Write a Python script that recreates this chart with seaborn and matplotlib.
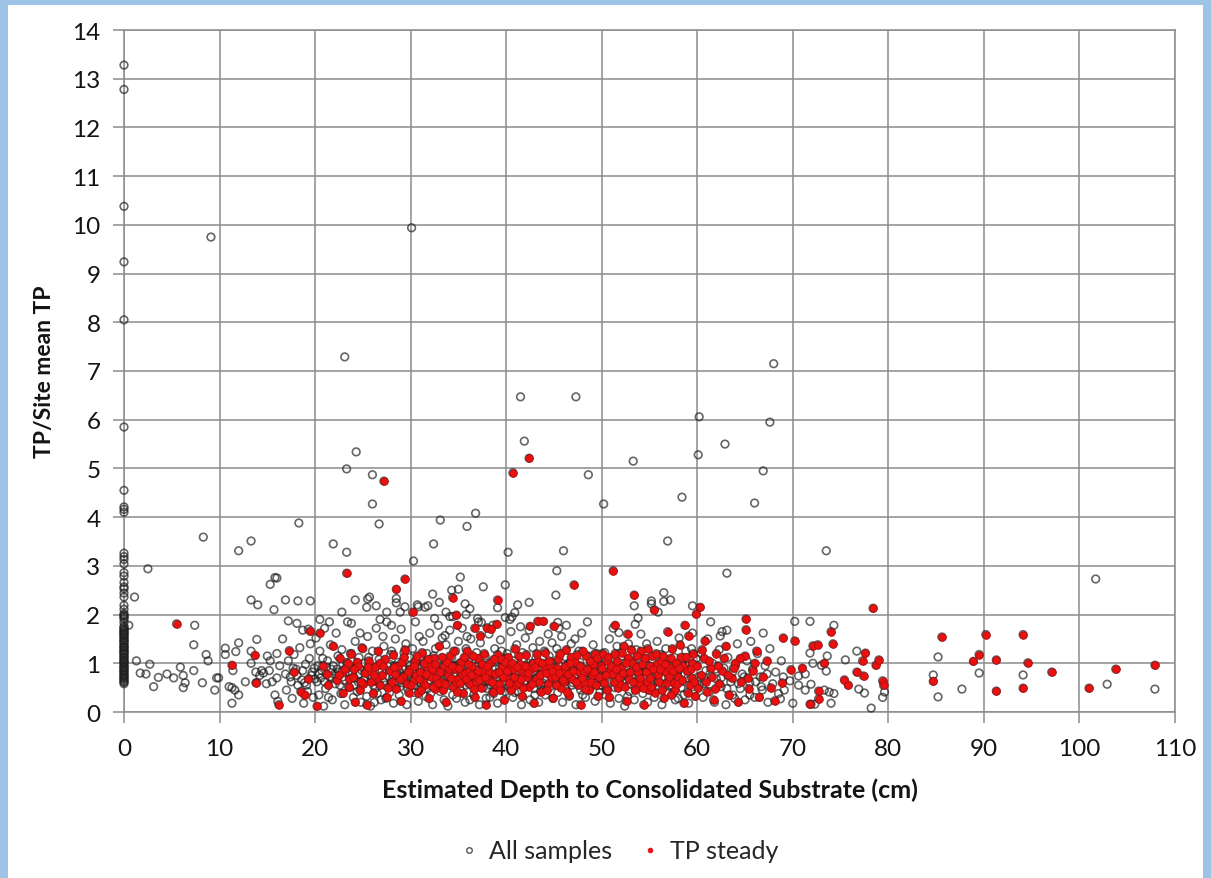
import matplotlib
matplotlib.use("Agg")
import matplotlib.pyplot as plt
from matplotlib.lines import Line2D
from matplotlib.patches import Rectangle
import numpy as np
import seaborn as sns

# values (depth in cm, TP / site mean TP)
zero_depth_y = [0.58, 0.61, 0.63, 0.66, 0.69, 0.7, 0.73, 0.76, 0.77, 0.81, 0.83, 0.86, 0.87,
                0.91, 0.93, 0.94, 0.98, 1.01, 1.03, 1.04, 1.07, 1.11, 1.12, 1.16, 1.19, 1.21,
                1.23, 1.26, 1.27, 1.31, 1.33, 1.34, 1.37, 1.41, 1.43, 1.46, 1.47, 1.51, 1.53,
                1.56, 1.59, 1.61, 1.63, 1.66, 1.67, 1.71, 1.73, 1.76, 1.84, 1.91, 1.94, 1.97,
                1.99, 2.02, 2.11, 2.19, 2.36, 2.44, 2.53, 2.57, 2.66, 2.79, 2.86, 3.04, 3.13,
                3.19, 3.26, 4.1, 4.16, 4.21, 4.55, 5.85, 8.05, 9.24, 10.38, 12.78, 13.28]

gray_outliers = [(9.1, 9.75), (30.1, 9.94), (23.1, 7.29), (24.3, 5.34), (23.3, 4.99), (26.0, 4.87),
                 (26.0, 4.27), (18.3, 3.88), (26.7, 3.86), (33.1, 3.94), (36.8, 4.08), (35.9, 3.81),
                 (8.3, 3.59), (13.3, 3.51), (12.0, 3.31), (21.9, 3.45), (23.3, 3.28), (32.4, 3.45),
                 (30.3, 3.1), (16.0, 2.75), (35.2, 2.77), (68.0, 7.15), (41.5, 6.47), (47.3, 6.47),
                 (60.2, 6.06), (67.6, 5.95), (41.9, 5.56), (62.9, 5.5), (60.1, 5.28), (53.3, 5.15),
                 (48.6, 4.87), (66.9, 4.95), (50.2, 4.27), (58.4, 4.41), (66.0, 4.29), (56.9, 3.51),
                 (40.2, 3.28), (46.0, 3.31), (73.5, 3.31), (45.3, 2.9), (63.1, 2.85), (101.7, 2.73)]

gray_low_depth = [(1.1, 2.36), (2.5, 2.94), (0.5, 1.78), (1.3, 1.05), (1.7, 0.8), (2.3, 0.78),
                  (2.7, 0.98), (3.1, 0.52), (3.6, 0.71), (4.5, 0.78), (5.2, 0.7), (5.9, 0.92),
                  (6.2, 0.75), (6.2, 0.5), (6.4, 0.6), (7.4, 1.78), (7.3, 1.38), (7.3, 0.85),
                  (8.2, 0.6), (8.6, 1.18), (8.8, 1.05), (9.5, 0.45), (9.7, 0.7), (9.9, 0.7),
                  (10.6, 1.31), (10.6, 1.18), (11.7, 1.24), (12.0, 1.42), (11.0, 0.52), (11.3, 0.5),
                  (11.6, 0.45), (12.0, 0.35), (11.3, 0.18), (11.4, 0.85), (12.7, 0.62), (13.3, 2.3),
                  (14.0, 2.2), (13.9, 1.49), (13.3, 1.25), (13.3, 1.0), (13.8, 0.82), (14.2, 0.75),
                  (14.4, 0.85), (13.9, 0.6), (15.3, 2.62), (15.8, 2.76), (15.7, 2.1), (16.9, 2.3),
                  (18.2, 2.28), (19.5, 2.28), (17.2, 1.87), (18.1, 1.82), (16.6, 1.5), (18.7, 1.68),
                  (19.3, 1.7), (16.0, 1.2), (15.3, 1.05)]

gray_upper_band = [(25.5, 2.32), (25.7, 2.36), (25.4, 2.15), (26.4, 2.18), (24.2, 2.3), (22.8, 2.05),
                   (23.8, 1.82), (27.5, 2.05), (28.0, 1.78), (31.5, 2.15), (31.8, 2.18), (33.0, 2.25),
                   (35.0, 2.52), (35.8, 2.0), (36.2, 2.12), (37.0, 1.92), (32.5, 1.92), (28.5, 2.33),
                   (28.5, 2.24), (28.9, 2.05), (29.4, 2.16), (30.7, 2.2), (30.8, 2.16), (37.6, 2.57),
                   (32.3, 2.42), (34.3, 2.5), (35.7, 2.22), (33.7, 2.05), (34.1, 1.96), (34.4, 1.96),
                   (33.6, 1.57), (39.9, 2.61), (39.1, 2.14), (41.2, 2.2), (40.9, 2.04), (42.4, 2.25),
                   (39.9, 1.94), (40.4, 1.9), (37.4, 1.84), (45.2, 2.4), (45.4, 1.84), (46.3, 1.78),
                   (53.4, 2.18), (53.8, 1.93), (55.2, 2.28), (55.2, 2.22), (56.5, 2.45), (56.5, 2.27),
                   (51.8, 1.63), (59.5, 2.18), (63.1, 1.68), (62.4, 1.56), (20.5, 1.9), (21.5, 1.85)]

gray_band = [
    (14.6, 0.8), (14.9, 0.58), (15.0, 1.15), (15.2, 0.85), (15.5, 0.62), (15.8, 0.35), (16.0, 0.7),
    (16.1, 0.22), (16.3, 0.95), (16.9, 0.78), (17.0, 0.45), (17.2, 1.05), (17.4, 0.72), (17.6, 0.28),
    (17.7, 0.9), (17.8, 1.18), (18.0, 0.88), (18.2, 0.55), (18.4, 1.32), (18.6, 0.66), (18.8, 0.18),
    (18.9, 0.6), (19.0, 0.98), (19.2, 0.42), (19.4, 1.1), (19.5, 1.4), (19.6, 0.75), (19.8, 0.3),
    (19.9, 0.9), (20.1, 1.52), (20.2, 0.62), (20.3, 0.95), (20.4, 0.35), (20.5, 1.25), (20.6, 0.7),
    (20.7, 0.85), (20.8, 1.1), (20.9, 0.12), (21.0, 1.72), (21.1, 0.48), (21.3, 1.05), (21.4, 0.3),
    (21.5, 0.72), (21.6, 1.38), (21.7, 0.88), (21.8, 0.25), (21.9, 0.95), (22.0, 0.78), (22.1, 0.58),
    (22.2, 1.62), (22.4, 1.15), (22.5, 0.82), (22.6, 0.55), (22.7, 0.38), (22.8, 1.28), (22.9, 0.98),
    (23.0, 0.65), (23.1, 0.15), (23.2, 0.88), (23.3, 1.02), (23.4, 1.85), (23.6, 0.5), (23.7, 1.2),
    (23.8, 1.05), (23.9, 0.78), (24.0, 0.3), (24.1, 0.7), (24.2, 1.45), (24.3, 0.92), (24.4, 0.42),
    (24.5, 0.62), (24.6, 1.12), (24.7, 1.62), (24.8, 0.2), (24.9, 0.85), (25.0, 1.3),
    (25.1, 0.58), (25.2, 1.0), (25.3, 0.82), (25.4, 0.32), (25.5, 1.55), (25.6, 1.12), (25.7, 0.75),
    (25.8, 0.12), (25.9, 0.68), (26.0, 1.25), (26.1, 0.9), (26.2, 0.2), (26.3, 0.48), (26.4, 1.72),
    (26.5, 0.38), (26.6, 0.62), (26.7, 1.08), (26.8, 1.9), (26.9, 0.25), (27.0, 0.85), (27.1, 1.55),
    (27.2, 1.35), (27.3, 0.55), (27.4, 0.28), (27.5, 1.85), (27.6, 0.95), (27.7, 0.72), (27.8, 0.4),
    (27.9, 1.18), (28.0, 1.25), (28.1, 0.7), (28.2, 0.18), (28.3, 0.95), (28.4, 1.5), (28.5, 0.82),
    (28.6, 0.6), (28.7, 1.02), (28.8, 0.35), (28.9, 0.52), (29.0, 1.7), (29.1, 0.6), (29.2, 0.88),
    (29.3, 1.22), (29.4, 0.9), (29.5, 1.4), (29.6, 0.15), (29.7, 0.48), (29.8, 0.78), (29.9, 1.12),
    (30.1, 0.72), (30.2, 1.3), (30.3, 0.55), (30.4, 0.4), (30.5, 1.85), (30.6, 1.05), (30.7, 0.92),
    (30.8, 0.22), (30.9, 1.55), (31.0, 1.1), (31.1, 0.58), (31.2, 0.9), (31.3, 1.45), (31.4, 0.8),
    (31.5, 1.02), (31.6, 0.32), (31.7, 1.2), (31.8, 0.48), (31.9, 0.65), (32.0, 1.62), (32.1, 0.38),
    (32.2, 0.98), (32.3, 0.15), (32.4, 1.15), (32.5, 0.5), (32.6, 1.3), (32.7, 0.62), (32.8, 0.85),
    (32.9, 1.78), (33.0, 0.95), (33.1, 0.42), (33.2, 1.05), (33.3, 1.52), (33.4, 0.7), (33.5, 0.25),
    (33.6, 0.68), (33.7, 1.38), (33.8, 0.9), (33.9, 0.12), (34.0, 0.55), (34.1, 1.68), (34.2, 0.85),
    (34.3, 1.12), (34.4, 0.35), (34.5, 0.95), (34.6, 0.78), (34.7, 1.25), (34.8, 0.28), (34.9, 0.6),
    (35.0, 1.45), (35.1, 1.0), (35.2, 0.45), (35.3, 0.62), (35.4, 1.72), (35.5, 0.75), (35.6, 0.92),
    (35.7, 0.2), (35.8, 1.3), (35.9, 1.55), (36.0, 0.88), (36.1, 0.58), (36.2, 0.25), (36.3, 1.5),
    (36.4, 1.05), (36.5, 0.7), (36.6, 0.35), (36.7, 0.8), (36.8, 1.02), (36.9, 1.22), (37.0, 0.62),
    (37.1, 1.85), (37.2, 0.15), (37.3, 1.42), (37.4, 0.68), (37.5, 0.95), (37.6, 0.5), (37.7, 0.78),
    (37.8, 1.15), (37.9, 0.28), (38.0, 0.48), (38.1, 0.78), (38.2, 1.6), (38.3, 0.3), (38.4, 0.55),
    (38.5, 1.02), (38.6, 1.78), (38.7, 0.38), (38.8, 1.3), (38.9, 0.88), (39.0, 0.7), (39.1, 0.18),
    (39.2, 0.55), (39.3, 0.92), (39.4, 1.48), (39.5, 1.25), (39.6, 0.6), (39.7, 1.1), (39.8, 0.82),
    (39.9, 0.42), (40.1, 1.2), (40.2, 0.52), (40.3, 0.95), (40.4, 0.85), (40.5, 1.65), (40.6, 1.95),
    (40.7, 0.3), (40.8, 1.05), (40.9, 0.4), (41.0, 0.68), (41.1, 1.38), (41.2, 0.62), (41.3, 0.42),
    (41.4, 0.9), (41.5, 1.75), (41.6, 0.15), (41.7, 1.22), (41.8, 1.05), (41.9, 0.75), (42.0, 1.52),
    (42.1, 0.88), (42.2, 0.58), (42.3, 1.0), (42.4, 1.68), (42.5, 0.25), (42.6, 0.82), (42.7, 0.62),
    (42.8, 1.32), (42.9, 0.48), (43.0, 0.35), (43.1, 1.1), (43.2, 0.7), (43.3, 1.0), (43.4, 0.2),
    (43.5, 1.45), (43.6, 0.78), (43.7, 0.92), (43.8, 0.6), (43.9, 0.45), (44.0, 1.25), (44.1, 0.35),
    (44.2, 0.98), (44.3, 0.8), (44.4, 1.6), (44.5, 1.15), (44.6, 0.52), (44.7, 1.02), (44.8, 1.42),
    (44.9, 0.28), (45.1, 0.72), (45.3, 1.3), (45.4, 0.4), (45.5, 1.72), (45.6, 0.95), (45.7, 0.58),
    (45.8, 1.55), (45.9, 0.2), (46.1, 0.62), (46.2, 0.48), (46.3, 1.12), (46.4, 0.85), (46.5, 1.0),
    (46.6, 0.32), (46.8, 1.4), (46.9, 0.55), (47.0, 0.6), (47.1, 1.0), (47.2, 1.5), (47.3, 0.15),
    (47.4, 0.78), (47.6, 1.25), (47.7, 1.02), (47.8, 0.45), (47.9, 1.62), (48.0, 0.35), (48.1, 0.9),
    (48.3, 0.3), (48.4, 0.68), (48.5, 1.85), (48.6, 1.15), (48.7, 0.8), (48.8, 0.5), (48.9, 0.98),
    (49.1, 1.38), (49.2, 0.62), (49.3, 0.22), (49.4, 0.75), (49.5, 1.2), (49.6, 1.05), (49.8, 0.4),
    (49.9, 0.88), (50.1, 0.65), (50.3, 1.22), (50.4, 0.35), (50.5, 0.48), (50.6, 0.92), (50.8, 1.5),
    (50.9, 0.18), (51.1, 0.78), (51.2, 1.72), (51.3, 1.08), (51.4, 0.5), (51.6, 1.35), (51.8, 0.28),
    (51.9, 0.85), (52.0, 0.7), (52.1, 1.15), (52.3, 0.6), (52.4, 0.12), (52.6, 0.95), (52.7, 0.32),
    (52.8, 1.4), (52.9, 0.42), (53.1, 0.72), (53.3, 1.02), (53.4, 0.25), (53.5, 1.8), (53.6, 1.28),
    (53.8, 0.55), (53.9, 0.88), (54.1, 1.6), (54.2, 0.95), (54.3, 0.38), (54.4, 0.7), (54.6, 1.1),
    (54.7, 1.4), (54.8, 0.2), (54.9, 0.82), (55.1, 0.6), (55.3, 1.05), (55.5, 0.3), (55.6, 0.85),
    (55.8, 1.45), (55.9, 2.05), (56.0, 0.48), (56.2, 1.18), (56.3, 0.15), (56.5, 0.72), (56.6, 1.0),
    (56.7, 1.3), (56.9, 0.4), (57.0, 0.95), (57.2, 2.3), (57.3, 0.55), (57.4, 0.62), (57.6, 1.12),
    (57.7, 0.25), (57.9, 0.8), (58.0, 0.28), (58.1, 1.52), (58.3, 0.5), (58.4, 1.0), (58.6, 0.35),
    (58.7, 0.78), (58.8, 1.25), (59.0, 0.7), (59.1, 0.18), (59.3, 0.9), (59.4, 1.3), (59.5, 1.62),
    (59.7, 0.45), (59.9, 1.1), (60.2, 0.55), (60.4, 1.2), (60.6, 0.3), (60.9, 0.85), (61.1, 1.5),
    (61.3, 0.42), (61.4, 1.85), (61.6, 1.0), (61.8, 0.2), (62.0, 0.68), (62.3, 1.28), (62.5, 0.52),
    (62.6, 1.65), (62.8, 0.9), (63.0, 0.15), (63.2, 1.12), (63.5, 0.62), (63.7, 0.35), (63.9, 0.28),
    (64.0, 0.95), (64.2, 1.4), (64.5, 0.48), (64.7, 0.78), (65.0, 0.25), (65.2, 1.05), (65.5, 0.6),
    (65.6, 1.45), (65.8, 0.88), (66.0, 0.3), (66.3, 1.2), (66.6, 0.72), (66.8, 0.45), (66.9, 1.62),
    (67.1, 0.95), (67.4, 0.2), (67.6, 1.3), (67.9, 0.58), (68.2, 0.82), (68.5, 0.38), (68.8, 1.05)]

gray_band_core = [
    (17.5, 0.62), (18.1, 0.75), (18.7, 0.85), (19.1, 0.55), (19.7, 0.82), (20.0, 0.68), (20.4, 0.78),
    (21.0, 0.62), (21.2, 0.92), (21.8, 0.7), (22.3, 0.88), (22.9, 0.72), (23.5, 0.82), (24.1, 0.55),
    (24.6, 0.78), (25.2, 0.68), (25.7, 0.95), (26.1, 0.55), (26.7, 0.82), (27.2, 0.62), (27.8, 0.98),
    (28.2, 0.75), (28.8, 0.85), (29.3, 0.65), (29.9, 0.95), (30.4, 0.78), (30.9, 0.62), (31.5, 0.72),
    (32.0, 0.82), (32.6, 0.92), (33.1, 0.68), (33.6, 0.85), (34.2, 0.62), (34.7, 0.95), (35.2, 0.8),
    (35.8, 0.55), (36.3, 0.82), (36.9, 0.92), (37.4, 0.58), (38.0, 0.88), (38.6, 0.68), (39.1, 0.78),
    (39.6, 0.98), (40.2, 0.72), (40.8, 0.58), (41.3, 0.85), (41.9, 0.62), (42.5, 0.95), (43.0, 0.78),
    (43.6, 0.55), (44.2, 0.68), (44.7, 0.88), (45.3, 0.62), (45.9, 0.82), (46.4, 0.72), (47.0, 0.9),
    (47.6, 0.58), (48.2, 0.78), (48.8, 0.65), (49.3, 0.92), (49.9, 0.55), (50.5, 0.82), (51.1, 0.62),
    (51.7, 0.92), (52.3, 0.78), (52.9, 0.58), (53.5, 0.72), (54.1, 0.82), (54.7, 0.52), (55.3, 0.75),
    (55.9, 0.62), (56.5, 0.88), (57.1, 0.52), (57.7, 0.75), (58.3, 0.62), (58.9, 0.95), (59.5, 0.52),
    (60.1, 0.72), (60.7, 0.58), (61.3, 0.78), (61.9, 0.88), (62.5, 0.7), (63.1, 0.48), (63.7, 0.82),
    (64.3, 0.58), (64.9, 0.72), (65.5, 0.35), (66.1, 0.62), (66.7, 0.52), (67.3, 0.78)]

gray_deep = [(70.2, 1.86), (71.8, 1.86), (74.3, 1.78), (76.7, 1.25), (75.5, 1.07), (79.6, 0.41),
             (79.4, 0.3), (78.2, 0.08), (76.9, 0.47), (77.5, 0.39), (74.0, 0.18), (73.3, 0.45),
             (73.8, 0.41), (74.3, 0.38), (71.9, 0.57), (72.1, 1.0), (73.5, 0.84), (73.0, 0.96),
             (73.6, 1.15), (71.8, 1.21), (71.3, 0.78), (70.6, 0.74), (70.6, 0.55), (71.3, 0.45),
             (71.9, 0.16), (72.3, 0.16), (70.0, 0.18), (69.7, 0.64), (69.0, 0.72), (69.1, 0.45),
             (68.7, 0.27), (84.7, 0.76), (85.2, 1.13), (85.2, 0.31), (87.7, 0.47), (89.5, 0.8),
             (94.1, 0.76), (102.9, 0.57), (107.9, 0.47)]

tp_steady = [
    (5.5, 1.81), (11.3, 0.96), (13.7, 1.16), (13.8, 0.6), (16.2, 0.15), (17.3, 1.26), (17.8, 0.82),
    (18.5, 0.42), (18.9, 0.35), (19.3, 0.68), (19.5, 1.66), (20.2, 0.12), (20.5, 1.62), (20.8, 0.95),
    (21.2, 0.78), (21.4, 0.55), (21.9, 1.35), (22.3, 0.65), (22.6, 1.1), (22.8, 0.82), (22.9, 0.38),
    (23.1, 0.88), (23.3, 2.85), (23.5, 0.52), (23.6, 0.68), (23.8, 1.2), (24.0, 0.72), (24.2, 0.2),
    (24.4, 1.02), (24.5, 0.95), (24.7, 0.45), (24.9, 1.32), (25.0, 0.58), (25.2, 0.8), (25.4, 0.15),
    (25.6, 1.05), (25.8, 0.85), (25.9, 0.62), (26.1, 0.38), (26.3, 0.92), (26.5, 0.7), (26.6, 1.25),
    (26.8, 0.55), (27.0, 0.75), (27.2, 4.74), (27.3, 1.08), (27.5, 0.3), (27.6, 0.5), (27.8, 0.85),
    (28.0, 0.62), (28.2, 1.18), (28.4, 0.78), (28.5, 2.52), (28.5, 0.48), (28.7, 0.95), (29.0, 0.22),
    (29.1, 1.02), (29.2, 0.72), (29.4, 2.73), (29.4, 1.28), (29.6, 0.58), (29.8, 0.4), (29.9, 0.88),
    (30.2, 2.05), (30.3, 0.65), (30.5, 1.05), (30.6, 0.75), (30.8, 0.4), (31.0, 0.82), (31.2, 1.22),
    (31.3, 0.62), (31.5, 0.55), (31.7, 0.92), (31.9, 0.28), (32.0, 0.95), (32.1, 0.72), (32.4, 1.1),
    (32.6, 0.48), (32.7, 0.7), (32.8, 0.85), (33.0, 1.35), (33.2, 0.62), (33.4, 0.45), (33.5, 0.95),
    (33.7, 0.2), (33.9, 0.75), (34.0, 0.88), (34.1, 1.15), (34.4, 2.35), (34.4, 0.52), (34.6, 0.88),
    (34.7, 0.62), (34.8, 1.99), (34.9, 1.78), (35.0, 0.68), (35.3, 1.02), (35.4, 0.78), (35.5, 0.38),
    (35.7, 0.8), (35.9, 1.25), (36.1, 0.85), (36.2, 0.58), (36.4, 0.95), (36.7, 1.72), (36.7, 0.3),
    (36.8, 0.62), (36.9, 0.72), (37.1, 1.1), (37.3, 1.57), (37.4, 0.5), (37.5, 0.98), (37.6, 0.85),
    (37.9, 0.15), (38.0, 1.73), (38.1, 0.65), (38.2, 0.82), (38.3, 1.0), (38.4, 1.7), (38.6, 0.42),
    (38.8, 0.78), (38.9, 0.55), (39.0, 1.8), (39.1, 2.3), (39.1, 1.18), (39.3, 0.58), (39.5, 1.08),
    (39.6, 0.92), (39.8, 0.25), (40.0, 0.7), (40.2, 1.12), (40.4, 0.9), (40.5, 0.45), (40.7, 4.91),
    (40.7, 0.88), (40.9, 1.3), (41.0, 0.55), (41.2, 0.6), (41.4, 0.98), (41.6, 0.85), (41.7, 0.32),
    (41.9, 0.75), (42.1, 1.18), (42.2, 0.72), (42.4, 5.21), (42.4, 0.52), (42.5, 1.76), (42.6, 0.88),
    (42.8, 1.0), (42.9, 0.18), (43.1, 0.68), (43.3, 1.86), (43.3, 1.05), (43.4, 0.62), (43.6, 0.42),
    (43.9, 1.86), (43.9, 0.82), (44.0, 0.95), (44.1, 1.22), (44.4, 0.58), (44.6, 0.95), (44.7, 0.72),
    (44.9, 0.28), (45.0, 1.76), (45.1, 0.72), (45.3, 0.9), (45.4, 1.08), (45.7, 0.5), (46.0, 0.85),
    (46.1, 0.62), (46.3, 1.28), (46.6, 0.35), (46.8, 1.12), (46.9, 0.68), (47.1, 2.61), (47.2, 1.02),
    (47.5, 0.55), (47.6, 0.82), (47.8, 0.15), (48.1, 0.82), (48.3, 0.6), (48.4, 1.15), (48.7, 0.45),
    (49.0, 0.75), (49.1, 0.98), (49.3, 1.2), (49.6, 0.32), (49.9, 0.95), (50.2, 0.6), (50.5, 1.05),
    (50.8, 0.3), (50.9, 0.85), (51.1, 0.78), (51.2, 2.9), (51.4, 1.78), (51.4, 1.2), (51.7, 0.5),
    (51.9, 0.58), (52.0, 0.9), (52.3, 1.35), (52.6, 0.22), (52.7, 1.6), (52.8, 1.1), (52.9, 0.68),
    (53.2, 1.0), (53.4, 2.4), (53.5, 0.45), (53.8, 0.82), (53.9, 0.6), (54.1, 1.25), (54.4, 0.15),
    (54.7, 0.62), (54.9, 0.45), (55.0, 0.95), (55.3, 1.15), (55.5, 2.1), (55.6, 0.4), (55.8, 0.98),
    (55.9, 0.75), (56.2, 1.05), (56.5, 0.28), (56.7, 0.82), (56.8, 0.6), (56.9, 1.65), (57.1, 0.9),
    (57.4, 1.3), (57.6, 0.6), (57.7, 0.45), (58.0, 0.72), (58.3, 1.12), (58.5, 0.95), (58.6, 0.18),
    (58.7, 1.78), (58.9, 0.85), (59.1, 1.56), (59.2, 0.55), (59.4, 0.7), (59.5, 1.0), (59.8, 0.32),
    (59.9, 2.01), (60.3, 2.15), (60.4, 0.75), (60.7, 1.1), (60.8, 1.46), (61.0, 0.42), (61.4, 0.9),
    (61.7, 0.25), (62.0, 1.2), (62.3, 0.58), (62.6, 0.85), (63.0, 1.35), (63.3, 0.35), (63.6, 0.7),
    (64.0, 1.0), (64.3, 0.2), (64.6, 0.62), (65.0, 1.15), (65.1, 1.91), (65.1, 1.69), (65.4, 0.48),
    (65.8, 0.85), (66.2, 1.25), (66.5, 0.3), (66.9, 0.72), (67.3, 1.05), (67.7, 0.5), (68.1, 0.23),
    (68.9, 0.6), (69.0, 1.52), (69.8, 0.87), (70.2, 1.46), (71.0, 0.9), (71.8, 0.16), (72.1, 1.36),
    (72.6, 1.38), (72.7, 0.27), (72.7, 0.43), (73.3, 1.0), (74.0, 1.65), (74.2, 1.4), (75.4, 0.66),
    (75.8, 0.55), (76.7, 0.82), (77.3, 1.05), (77.4, 0.74), (77.6, 1.21), (78.4, 2.13), (78.7, 0.96),
    (79.0, 1.07), (79.4, 0.64), (79.5, 0.55), (84.7, 0.63), (85.6, 1.54), (88.9, 1.04), (89.5, 1.18),
    (90.2, 1.59), (91.3, 1.07), (91.3, 0.43), (94.1, 1.59), (94.1, 0.49), (94.6, 1.01), (97.1, 0.82),
    (101.0, 0.49), (103.8, 0.88), (107.9, 0.96)]

tp_steady_core = [
    (22.5, 0.75), (23.4, 1.0), (24.1, 0.88), (24.8, 0.62), (25.5, 0.92), (26.2, 0.75), (26.8, 1.0),
    (27.1, 0.95), (28.3, 0.92), (28.9, 0.68), (29.3, 1.12), (29.7, 0.82), (30.0, 0.55), (30.4, 0.95),
    (30.7, 1.15), (30.9, 0.68), (31.1, 0.45), (31.4, 1.0), (31.6, 0.78), (31.8, 1.08), (32.2, 0.88),
    (32.3, 0.52), (32.5, 0.98), (32.9, 0.6), (33.1, 0.82), (33.3, 1.12), (33.6, 0.58), (33.8, 1.02),
    (34.2, 0.7), (34.3, 0.95), (34.5, 1.25), (34.9, 0.42), (35.1, 0.9), (35.2, 0.6), (35.6, 1.12),
    (35.8, 0.68), (36.0, 0.98), (36.3, 0.75), (36.5, 1.15), (36.6, 0.48), (37.0, 0.85), (37.2, 0.65),
    (37.7, 1.2), (37.8, 0.72), (38.0, 0.95), (38.5, 0.62), (38.7, 1.08), (39.2, 0.82), (39.4, 0.45),
    (39.7, 0.72), (39.9, 1.02), (40.1, 0.85), (40.3, 0.6), (40.6, 1.0), (40.8, 0.72), (41.1, 0.92),
    (41.3, 1.15), (41.5, 0.68), (41.8, 0.5), (42.0, 0.95), (42.3, 0.8), (42.7, 0.58), (43.0, 0.92),
    (43.2, 1.2), (43.5, 0.75), (43.8, 1.0), (44.2, 0.8), (44.3, 0.45), (44.5, 1.05), (44.8, 0.85),
    (45.2, 0.55), (45.5, 0.8), (45.6, 1.2), (45.9, 0.65), (46.2, 0.95), (46.4, 0.42), (46.5, 0.78),
    (46.7, 1.0), (47.0, 0.85), (47.3, 0.62), (47.4, 1.18), (47.7, 0.95), (47.9, 0.7), (48.0, 1.25),
    (48.2, 0.48), (48.5, 0.88), (48.8, 1.05), (48.9, 0.62), (49.2, 0.82), (49.4, 0.55), (49.5, 1.1),
    (49.7, 0.72), (50.0, 0.9), (50.1, 1.2), (50.4, 0.75), (50.6, 0.45), (50.7, 1.12), (51.0, 0.95),
    (51.3, 0.62), (51.5, 0.88), (51.6, 1.05), (51.8, 0.72), (52.1, 1.22), (52.2, 0.8), (52.4, 0.52),
    (52.5, 1.0), (53.0, 0.82), (53.1, 1.28), (53.3, 0.62), (53.6, 0.92), (53.7, 1.15), (54.0, 0.7),
    (54.2, 0.98), (54.3, 0.5), (54.5, 1.1), (54.6, 0.82), (54.8, 1.3), (55.1, 0.7), (55.2, 0.52),
    (55.4, 0.88), (55.7, 1.2), (56.0, 0.62), (56.1, 0.88), (56.3, 0.45), (56.4, 1.15), (56.6, 0.98),
    (57.0, 0.72), (57.2, 1.1), (57.3, 0.35), (57.5, 0.85), (57.8, 1.0), (57.9, 0.58), (58.1, 0.9),
    (58.2, 1.38), (58.4, 0.65), (58.8, 1.12), (59.0, 0.4), (59.3, 0.88), (59.6, 1.2), (59.7, 0.62),
    (60.0, 0.95), (60.1, 0.5), (60.5, 1.28), (60.9, 0.62), (61.2, 1.05), (61.5, 0.72), (61.9, 0.48),
    (62.2, 0.95), (62.8, 1.1), (63.2, 0.75), (63.8, 0.9), (64.5, 1.1), (65.3, 0.7), (66.0, 1.0)]

x_ticks = list(range(0, 111, 10))
y_ticks = list(range(0, 15))

# "All samples" contains the TP steady subset as well
red_pts = tp_steady + tp_steady_core
all_pts = ([(0.0, v) for v in zero_depth_y] + gray_outliers + gray_low_depth + gray_upper_band
           + gray_band + gray_band_core + gray_deep + red_pts)
all_x = np.array([p[0] for p in all_pts])
all_y = np.array([p[1] for p in all_pts])
red_x = np.array([p[0] for p in red_pts])
red_y = np.array([p[1] for p in red_pts])

sns.set_theme(style="white")
plt.rcParams['font.family'] = ['Lato', 'DejaVu Sans']

fig = plt.figure(figsize=(12.11, 8.79), dpi=100)
fig.patch.set_facecolor('#9dc3e6')
fig.patches.append(Rectangle((8 / 1211, 0), (1203 - 8) / 1211, (879 - 6) / 879,
                             transform=fig.transFigure, facecolor='white', edgecolor='none', zorder=0))

ax = fig.add_axes([124 / 1211, 1 - 713 / 879, (1175 - 124) / 1211, (713 - 31) / 879])
ax.set_zorder(2)
ax.set_facecolor('white')

grid_c = '#8c8c8c'
sns.scatterplot(x=all_x, y=all_y, ax=ax, s=30, marker='o', facecolor='none',
                edgecolor='#1e1e1e', linewidth=1.2, alpha=0.68, clip_on=False, zorder=3)
sns.scatterplot(x=red_x, y=red_y, ax=ax, s=30, marker='o', color='#ec1111',
                edgecolor='#a80e0e', linewidth=0.6, clip_on=False, zorder=4)

ax.set_xlim(0, 110)
ax.set_ylim(0, 14)
ax.set_xticks(x_ticks)
ax.set_yticks(y_ticks)
ax.grid(True, color=grid_c, linewidth=1.1)
ax.set_axisbelow(True)
for sp in ax.spines.values():
    sp.set_color(grid_c)
    sp.set_linewidth(1.1)
ax.tick_params(axis='both', which='major', length=8, width=1.1, color=grid_c,
               direction='out', labelsize=17.5, labelcolor='#141414')
ax.tick_params(axis='x', pad=11)
ax.tick_params(axis='y', pad=9)
ax.tick_params(axis='both', bottom=True, left=True)

ax.set_xlabel('Estimated Depth to Consolidated Substrate (cm)', fontsize=18,
              fontweight='bold', color='#141414', labelpad=13)
ax.set_ylabel('TP/Site mean TP', fontsize=16.5, fontweight='bold', color='#141414', labelpad=12)

handles = [Line2D([], [], linestyle='none', marker='o', markersize=4, markerfacecolor='none',
                  markeredgecolor='#555555', markeredgewidth=1.0),
           Line2D([], [], linestyle='none', marker='o', markersize=3, markerfacecolor='#e3161d',
                  markeredgecolor='#e3161d')]
fig.legend(handles, ['All samples', 'TP steady'], loc='center', bbox_to_anchor=(0.51, 0.031),
           ncol=2, frameon=False, fontsize=18, handletextpad=0.3, columnspacing=1.0,
           handlelength=1.0)

fig.savefig('out.png', dpi=100, facecolor=fig.get_facecolor())
